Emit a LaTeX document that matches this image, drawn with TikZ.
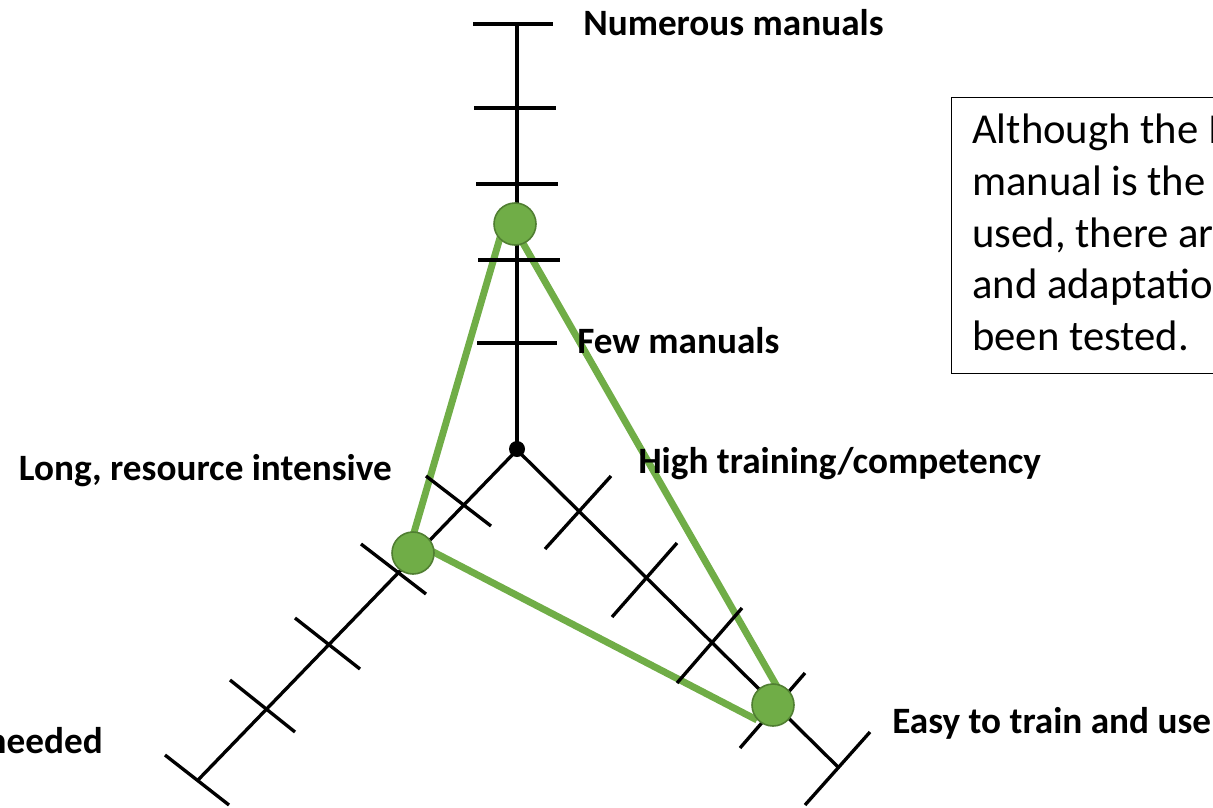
\documentclass[tikz,border=0pt]{standalone}
\usepackage{fontspec}
\setmainfont{Carlito}
\usetikzlibrary{calc,backgrounds}
\definecolor{ggreen}{HTML}{70AD47}
\definecolor{gdark}{HTML}{507E32}
\tikzset{
  axisline/.style={line width=2.5pt, black},
  tickline/.style={line width=2.5pt, black},
  poly/.style={line width=5.2pt, ggreen},
  gdot/.style={circle, fill=ggreen, draw=gdark, line width=1.2pt, minimum size=31.5pt, inner sep=0},
  lbl/.style={font=\fontsize{27.9}{33}\selectfont\bfseries, inner sep=0},
  boxtxt/.style={font=\fontsize{32}{38.6}\selectfont, inner sep=0, anchor=base west},
}
\begin{document}
\begin{tikzpicture}[x=0.75pt, y=-0.75pt]
\useasboundingbox (0,0) rectangle (1213,807);
% axes
\coordinate (O) at (517,450);
\coordinate (Top) at (517,24);
\coordinate (LEnd) at (198,780);
\coordinate (REnd) at (838,767);
\draw[axisline] (O) -- (Top);
\draw[axisline] (O) -- (LEnd);
\draw[axisline] (O) -- (REnd);
% vertical ticks
\draw[tickline] (473,24) -- (553,24);
\draw[tickline] (474,108) -- (556,108);
\draw[tickline] (476,184) -- (558,184);
\draw[tickline] (478,260) -- (560,260);
\draw[tickline] (477,343) -- (557,343);
% left ticks
\draw[tickline] (426,476) -- (491,526);
\draw[tickline] (361,544) -- (426,594);
\draw[tickline] (295,618) -- (360,669);
\draw[tickline] (230,680) -- (295,732);
\draw[tickline] (165,755) -- (229,805);
% right ticks
\draw[tickline] (545,549) -- (611,476);
\draw[tickline] (612,617) -- (677,543);
\draw[tickline] (677,683) -- (742,608);
\draw[tickline] (740,748) -- (805,673);
\draw[tickline] (805,805) -- (870,732);
% center dot
\node (center) [circle, fill=black, inner sep=0, minimum size=12pt] at (517,449) {};
% labels
\node (numerous) [lbl, anchor=base west] at (583,35) {Numerous manuals};
\node (few) [lbl, anchor=base west] at (577,353) {Few manuals};
\node (long) [lbl, anchor=base east] at (392,480) {Long, resource intensive};
\node (high) [lbl, anchor=base west] at (638,473) {High training/competency};
\node (easy) [lbl, anchor=base west] at (892,733) {Easy to train and use};
\node (needed) [lbl, anchor=base east] at (103,753) {needed};
% green triangle
\node (T) [gdot] at (515,224) {};
\node (L) [gdot] at (413,553) {};
\node (R) [gdot] at (773,705) {};
\begin{scope}[on background layer]
\draw[poly] ($(T.center)+(-11,0)$) -- ($(L.center)+(-5,0)$);
\draw[poly] ($(T.center)+(-3,0)$) -- ($(R.center)+(6,-15)$);
\draw[poly] ($(L.center)+(5,-9)$) -- ($(R.center)+(-16,15)$);
\end{scope}
% text box
\node (box) [draw, line width=1pt, anchor=north west, minimum width=217.5pt, minimum height=207pt, inner sep=0] at (951,97) {};
\node (b1) [boxtxt] at (972,143) {Although the I};
\node (b2) [boxtxt] at (972,195) {manual is the};
\node (b3) [boxtxt] at (972,247) {used, there ar};
\node (b4) [boxtxt] at (972,298) {and adaptatio};
\node (b5) [boxtxt] at (972,350) {been tested.};
\end{tikzpicture}
\end{document}
